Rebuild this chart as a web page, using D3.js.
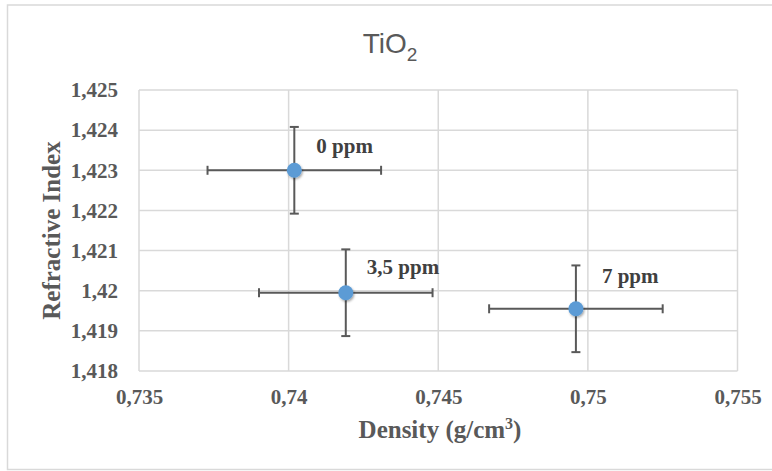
<!DOCTYPE html>
<html><head><meta charset="utf-8">
<script src="https://cdn.jsdelivr.net/npm/d3@7"></script>
<style>body{margin:0;background:#fff}svg{display:block}</style>
</head><body>
<script>
// ---- data ----
const labels = ["0 ppm", "3,5 ppm", "7 ppm"];
const density = [0.74019, 0.74191, 0.74960];
const refractiveIndex = [1.42300, 1.41995, 1.41955];
const densityError = [0.0029, 0.0029, 0.0029];
const indexError = [0.00108, 0.00108, 0.00108];
const xTicks = [0.735, 0.74, 0.745, 0.75, 0.755];
const xTickLabels = ["0,735", "0,74", "0,745", "0,75", "0,755"];
const yTicks = [1.418, 1.419, 1.42, 1.421, 1.422, 1.423, 1.424, 1.425];
const yTickLabels = ["1,418", "1,419", "1,42", "1,421", "1,422", "1,423", "1,424", "1,425"];

const W = 772, H = 471;
const svg = d3.select("body").append("svg").attr("width", W).attr("height", H);
const defs = svg.append("defs");
const f = defs.append("filter").attr("id", "sh").attr("x", "-50%").attr("y", "-50%").attr("width", "200%").attr("height", "200%");
f.append("feDropShadow").attr("dx", 1).attr("dy", 1.5).attr("stdDeviation", 1.3).attr("flood-color", "#000").attr("flood-opacity", 0.35);

svg.append("rect").attr("x", 7.5).attr("y", 5).attr("width", 770).attr("height", 464.5)
  .attr("fill", "#fff").attr("stroke", "#d9d9d9").attr("stroke-width", 1.5);

const x = d3.scaleLinear().domain([0.735, 0.755]).range([139, 737.5]);
const y = d3.scaleLinear().domain([1.418, 1.425]).range([371, 90]);

const serif = "'Liberation Serif','Times New Roman',serif";
const grey = "#595959";

// gridlines
const g = svg.append("g");
g.selectAll("line.h").data(yTicks).join("line")
  .attr("x1", x.range()[0]).attr("x2", x.range()[1])
  .attr("y1", d => y(d)).attr("y2", d => y(d))
  .attr("stroke", "#d9d9d9").attr("stroke-width", 1.5);
g.selectAll("line.v").data(xTicks).join("line")
  .attr("y1", y.range()[0]).attr("y2", y.range()[1])
  .attr("x1", d => x(d)).attr("x2", d => x(d))
  .attr("stroke", "#d9d9d9").attr("stroke-width", 1.5);

// axes (labels only)
const xAxis = d3.axisBottom(x).tickValues(xTicks).tickSize(0).tickPadding(0)
  .tickFormat((d, i) => xTickLabels[i]);
const xa = svg.append("g").attr("transform", `translate(0,${y.range()[0]})`).call(xAxis);
xa.select(".domain").remove();
xa.selectAll("text").attr("font-family", serif).attr("font-weight", "bold").attr("font-size", 21)
  .attr("fill", grey).attr("dy", null).attr("y", 33);

const yAxis = d3.axisLeft(y).tickValues(yTicks).tickSize(0).tickPadding(0)
  .tickFormat((d, i) => yTickLabels[i]);
const ya = svg.append("g").attr("transform", `translate(${118},0)`).call(yAxis);
ya.select(".domain").remove();
ya.selectAll("text").attr("font-family", serif).attr("font-weight", "bold").attr("font-size", 21)
  .attr("fill", grey).attr("x", 0);

// title
const t = svg.append("text").attr("x", 390).attr("y", 53).attr("text-anchor", "middle")
  .attr("font-family", "'Liberation Sans',Arial,sans-serif").attr("font-size", 28).attr("fill", grey);
t.append("tspan").text("TiO");
t.append("tspan").attr("font-size", 19).attr("dy", 8).text("2");

// axis titles
const xt = svg.append("text").attr("x", 440).attr("y", 438).attr("text-anchor", "middle")
  .attr("font-family", serif).attr("font-weight", "bold").attr("font-size", 25).attr("fill", grey);
xt.append("tspan").text("Density (g/cm");
xt.append("tspan").attr("font-size", 16).attr("dy", -9).text("3");
xt.append("tspan").attr("dy", 9).text(")");

svg.append("text").attr("transform", `translate(60,${(y.range()[0] + y.range()[1]) / 2}) rotate(-90)`)
  .attr("text-anchor", "middle").attr("font-family", serif).attr("font-weight", "bold")
  .attr("font-size", 25).attr("fill", grey).text("Refractive Index");

// error bars
const pts = labels.map((l, i) => ({l, x: density[i], y: refractiveIndex[i], ex: densityError[i], ey: indexError[i]}));
const eb = svg.append("g").attr("stroke", "#595959").attr("stroke-width", 2);
const cap = 4.5;
pts.forEach(p => {
  eb.append("line").attr("x1", x(p.x - p.ex)).attr("x2", x(p.x + p.ex)).attr("y1", y(p.y)).attr("y2", y(p.y));
  eb.append("line").attr("x1", x(p.x - p.ex)).attr("x2", x(p.x - p.ex)).attr("y1", y(p.y) - cap).attr("y2", y(p.y) + cap);
  eb.append("line").attr("x1", x(p.x + p.ex)).attr("x2", x(p.x + p.ex)).attr("y1", y(p.y) - cap).attr("y2", y(p.y) + cap);
  eb.append("line").attr("x1", x(p.x)).attr("x2", x(p.x)).attr("y1", y(p.y - p.ey)).attr("y2", y(p.y + p.ey));
  eb.append("line").attr("x1", x(p.x) - cap).attr("x2", x(p.x) + cap).attr("y1", y(p.y - p.ey)).attr("y2", y(p.y - p.ey));
  eb.append("line").attr("x1", x(p.x) - cap).attr("x2", x(p.x) + cap).attr("y1", y(p.y + p.ey)).attr("y2", y(p.y + p.ey));
});

// markers
svg.append("g").selectAll("circle").data(pts).join("circle")
  .attr("cx", d => x(d.x)).attr("cy", d => y(d.y)).attr("r", 7.5)
  .attr("fill", "#5b9bd5").attr("filter", "url(#sh)");

// data labels
const offs = [[22, -17], [21, -18.5], [26, -26]];
svg.append("g").selectAll("text").data(pts).join("text")
  .attr("x", (d, i) => x(d.x) + offs[i][0]).attr("y", (d, i) => y(d.y) + offs[i][1])
  .attr("font-family", serif).attr("font-weight", "bold").attr("font-size", 21).attr("fill", "#404040")
  .text(d => d.l);
</script>
</body></html>
